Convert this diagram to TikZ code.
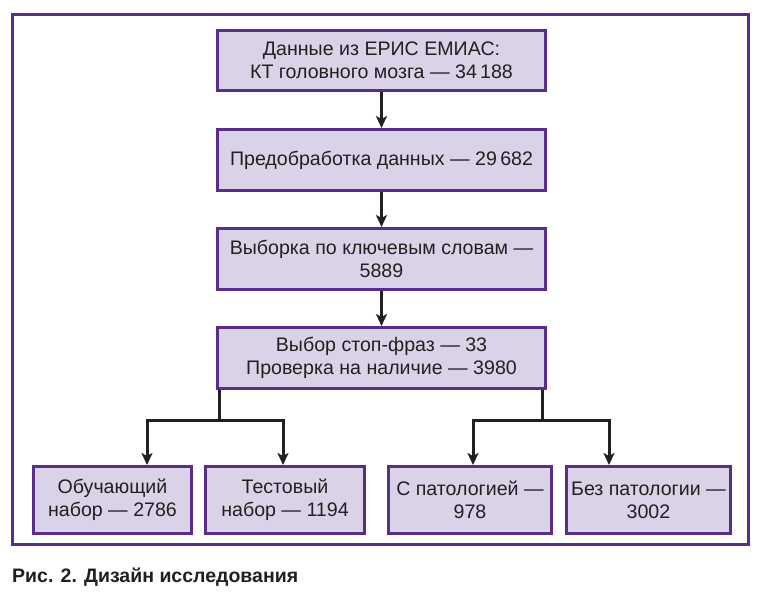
\documentclass[tikz,border=0pt]{standalone}
\usepackage{fontspec}
\setmainfont{Liberation Sans}
\usetikzlibrary{arrows.meta}
\definecolor{frameviolet}{HTML}{5A2D8A}
\definecolor{boxfill}{HTML}{DAD3E8}
\definecolor{ink}{HTML}{231F20}
\tikzset{
  flowbox/.style={draw=frameviolet, fill=boxfill, line width=3pt, inner sep=0pt,
    align=center, text=ink, font=\fontsize{19.6}{23}\selectfont},
  conn/.style={draw=ink, line width=3pt},
  arr/.style={conn, -{Stealth[length=12pt,width=11pt,inset=3pt]}},
}
\begin{document}
\begin{tikzpicture}[x=1pt,y=-1pt]
\useasboundingbox (0,0) rectangle (761,595);
\fill[white] (0,0) rectangle (761,595);
\draw[frameviolet, line width=3pt] (12.5,14.5) rectangle (748.5,544.5);

\node[flowbox, minimum width=328pt, minimum height=60pt] (b1) at (381.5,60.5)
  {Данные из ЕРИС ЕМИАС:\\КТ головного мозга — 34\,188};
\node[flowbox, minimum width=328pt, minimum height=61pt] (b2) at (381.5,160)
  {Предобработка данных — 29\,682};
\node[flowbox, minimum width=328pt, minimum height=61pt] (b3) at (381.5,259)
  {Выборка по ключевым словам —\\5889};
\node[flowbox, minimum width=328pt, minimum height=61pt] (b4) at (381.5,358)
  {Выбор стоп-фраз — 33\\Проверка на наличие — 3980};

\node[flowbox, minimum width=158pt, minimum height=67pt] (l1) at (112.5,500)
  {Обучающий\\набор — 2786};
\node[flowbox, minimum width=159pt, minimum height=67pt] (l2) at (285,500)
  {Тестовый\\набор — 1194};
\node[flowbox, minimum width=163pt, minimum height=67pt] (r1) at (470,500)
  {С патологией —\\978};
\node[flowbox, minimum width=164pt, minimum height=67pt] (r2) at (648.5,500)
  {Без патологии —\\3002};

\draw[arr] (b1.south) -- (b2.north);
\draw[arr] (b2.south) -- (b3.north);
\draw[arr] (b3.south) -- (b4.north);

\coordinate (jl) at (219,420);
\coordinate (jr) at (542,420);
\coordinate (tl1) at (147,465);
\coordinate (tl2) at (283,465);
\coordinate (tr1) at (473,465);
\coordinate (tr2) at (609,465);

\draw[conn] (b4.south -| jl) -- (jl);
\draw[arr] (jl) -| (l1.north -| tl1);
\draw[arr] (jl) -| (l2.north -| tl2);
\draw[conn] (b4.south -| jr) -- (jr);
\draw[arr] (jr) -| (r1.north -| tr1);
\draw[arr] (jr) -| (r2.north -| tr2);

\node[anchor=base west, inner sep=0pt, text=ink, font=\fontsize{19.5}{22}\selectfont\bfseries] (cap) at (12,582)
  {Рис. 2. Дизайн исследования};
\end{tikzpicture}
\end{document}
